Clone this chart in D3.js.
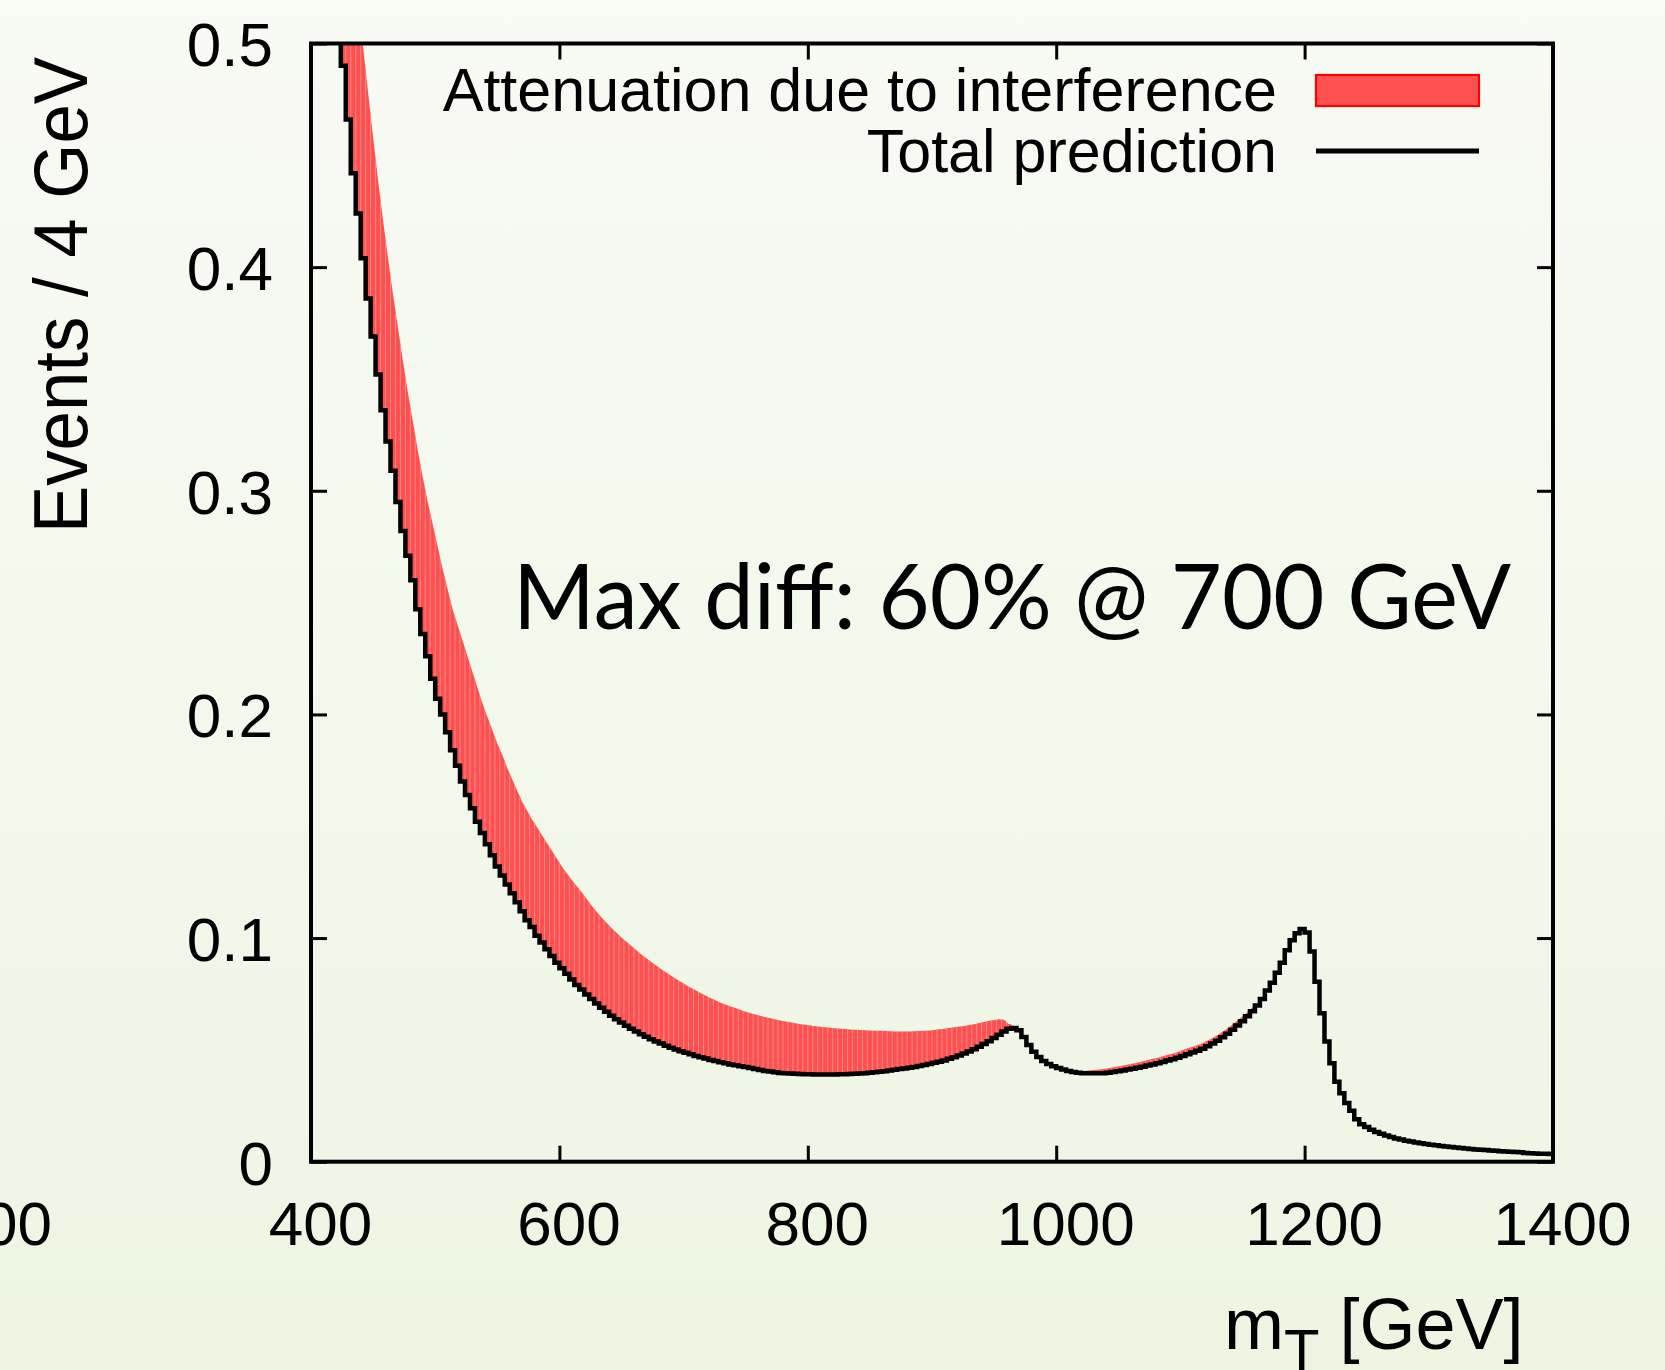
<!DOCTYPE html>
<html>
<head>
<meta charset="utf-8">
<script src="https://cdn.jsdelivr.net/npm/d3@7"></script>
<style>
  html, body { margin: 0; padding: 0; overflow: hidden; background: #f4f8ee; }
  svg { display: block; }
</style>
</head>
<body>
<div id="chart"></div>
<script>
// ticks
const xTicks = [400, 600, 800, 1000, 1200, 1400];
const yTicks = [0, 0.1, 0.2, 0.3, 0.4, 0.5];

// histogram bins: 4 GeV wide from 400 GeV
const binStart = 400, binWidth = 4;

// total prediction (black step line), one value per bin, 400 .. 1396
const totalPrediction = [
  0.645, 0.616, 0.588, 0.562, 0.537, 0.513, 0.490, 0.466, 0.442, 0.424,
  0.404, 0.386, 0.369, 0.352, 0.336, 0.322, 0.309, 0.295, 0.282, 0.271,
  0.260, 0.247, 0.236, 0.226, 0.216, 0.207, 0.200, 0.192, 0.184, 0.177,
  0.170, 0.164, 0.158, 0.152, 0.147, 0.142, 0.137, 0.132, 0.128, 0.124,
  0.120, 0.116, 0.112, 0.108, 0.105, 0.101, 0.098, 0.095, 0.092, 0.089,
  0.0865, 0.084, 0.0815, 0.079, 0.077, 0.0748, 0.0727, 0.0707, 0.0688, 0.067,
  0.0653, 0.0637, 0.0622, 0.0608, 0.0595, 0.0582, 0.057, 0.0559, 0.0548, 0.0538,
  0.0528, 0.0519, 0.051, 0.0502, 0.0494, 0.0487, 0.048, 0.0473, 0.0467, 0.0461,
  0.0455, 0.045, 0.0445, 0.044, 0.0435, 0.0431, 0.0427, 0.0423, 0.0419, 0.0415,
  0.041, 0.0406, 0.0403, 0.04, 0.0397, 0.0396, 0.0394, 0.0393, 0.0392, 0.0391,
  0.0391, 0.039, 0.039, 0.039, 0.039, 0.039, 0.0391, 0.0391, 0.0392, 0.0393,
  0.0394, 0.0396, 0.0398, 0.04, 0.0402, 0.0405, 0.0408, 0.0411, 0.0414, 0.0417,
  0.042, 0.0424, 0.0428, 0.0432, 0.0437, 0.0442, 0.0447, 0.0453, 0.046, 0.0467,
  0.0475, 0.0484, 0.0493, 0.0503, 0.0514, 0.0526, 0.0539, 0.0553, 0.0568, 0.0582,
  0.0594, 0.0598, 0.0588, 0.0558, 0.0522, 0.0492, 0.0468, 0.045, 0.0437, 0.0427,
  0.0419, 0.0412, 0.0406, 0.0401, 0.0398, 0.0396, 0.0395, 0.0395, 0.0395, 0.0396,
  0.0398, 0.0401, 0.0404, 0.0408, 0.0412, 0.0416, 0.042, 0.0425, 0.043, 0.0435,
  0.044, 0.0446, 0.0452, 0.0458, 0.0465, 0.0473, 0.0481, 0.0488, 0.0496, 0.0505,
  0.0516, 0.0528, 0.0541, 0.0556, 0.0572, 0.059, 0.0609, 0.0628, 0.065, 0.0673,
  0.0699, 0.0728, 0.0765, 0.080, 0.0845, 0.089, 0.0945, 0.099, 0.1022, 0.104,
  0.1025, 0.094, 0.0805, 0.0664, 0.0537, 0.044, 0.0358, 0.0306, 0.0262, 0.0228,
  0.019, 0.0168, 0.0155, 0.0143, 0.0133, 0.0125, 0.0117, 0.011, 0.0104, 0.0099,
  0.0094, 0.009, 0.0086, 0.0082, 0.0079, 0.0076, 0.0073, 0.007, 0.0068, 0.0066,
  0.0063, 0.0061, 0.0059, 0.0057, 0.0055, 0.0053, 0.0052, 0.005, 0.0049, 0.0047,
  0.0046, 0.0045, 0.0043, 0.0042, 0.0039, 0.0038, 0.0037, 0.0036, 0.0035, 0.0034
];

// prediction without interference (top of the red band), first band 400 .. 960
const bandAStart = 400;
const noInterferenceA = [
  0.82, 0.78, 0.74, 0.70, 0.665, 0.63, 0.60, 0.57, 0.545, 0.52,
  0.498, 0.478, 0.458, 0.439, 0.421, 0.404, 0.388, 0.373, 0.358, 0.344,
  0.331, 0.318, 0.306, 0.295, 0.285, 0.275, 0.265, 0.256, 0.247, 0.240,
  0.233, 0.226, 0.219, 0.212, 0.205, 0.199, 0.193, 0.187, 0.182, 0.176,
  0.171, 0.166, 0.161, 0.157, 0.153, 0.1495, 0.146, 0.1425, 0.139, 0.1355,
  0.132, 0.129, 0.126, 0.1232, 0.1205, 0.1175, 0.1145, 0.1118, 0.1092, 0.1068,
  0.1045, 0.1024, 0.1003, 0.0983, 0.0964, 0.0945, 0.0927, 0.091, 0.0893, 0.0877,
  0.0861, 0.0846, 0.0831, 0.0817, 0.0803, 0.079, 0.0777, 0.0765, 0.0753, 0.0742,
  0.0731, 0.0721, 0.0711, 0.0702, 0.0694, 0.0686, 0.0678, 0.0671, 0.0664, 0.0658,
  0.0652, 0.0646, 0.0641, 0.0636, 0.0631, 0.0627, 0.0623, 0.0619, 0.0615, 0.0612,
  0.0609, 0.0606, 0.0603, 0.0601, 0.0599, 0.0597, 0.0595, 0.0593, 0.0591, 0.059,
  0.0589, 0.0588, 0.0587, 0.0586, 0.0585, 0.0584, 0.0583, 0.0582, 0.0582, 0.0582,
  0.0582, 0.0583, 0.0584, 0.0585, 0.0587, 0.0589, 0.0592, 0.0595, 0.0598, 0.0601,
  0.0604, 0.0607, 0.0611, 0.0615, 0.062, 0.0625, 0.063, 0.0634, 0.0637, 0.0635,
  0.0615
];

// second band 1016 .. 1160
const bandBStart = 1016;
const noInterferenceB = [
  0.0402, 0.0405, 0.0408, 0.041, 0.0412, 0.0415, 0.0418, 0.0422, 0.0426, 0.043,
  0.0435, 0.0439, 0.0444, 0.0449, 0.0455, 0.046, 0.0465, 0.0472, 0.0478, 0.0484,
  0.0491, 0.0499, 0.0507, 0.0514, 0.0522, 0.0531, 0.0542, 0.0553, 0.0566, 0.0581,
  0.0596, 0.0613, 0.0631, 0.0649, 0.0669, 0.0689, 0.0708
];

const W = 1665, H = 1370;
const margin = { top: 43.5, right: 112, bottom: 208.3, left: 311 },
      width = W - margin.left - margin.right,
      height = H - margin.top - margin.bottom;

const x = d3.scaleLinear().domain([400, 1400]).range([0, width]);
const y = d3.scaleLinear().domain([0, 0.5]).range([height, 0]);

const font = "'Liberation Sans', Arial, Helvetica, sans-serif";

const svg = d3.select("#chart").append("svg")
    .attr("width", W)
    .attr("height", H);

const defs = svg.append("defs");
const grad = defs.append("linearGradient")
    .attr("id", "bg").attr("x1", 0).attr("y1", 0).attr("x2", 0).attr("y2", 1);
grad.append("stop").attr("offset", "0%").attr("stop-color", "#f8faf4");
grad.append("stop").attr("offset", "50%").attr("stop-color", "#f3f8ec");
grad.append("stop").attr("offset", "100%").attr("stop-color", "#edf5e2");

svg.append("rect")
    .attr("width", W).attr("height", H)
    .attr("fill", "url(#bg)");

defs.append("clipPath").attr("id", "plotClip")
  .append("rect")
    .attr("width", width).attr("height", height);

const g = svg.append("g")
    .attr("transform", "translate(" + margin.left + "," + margin.top + ")");

const plot = g.append("g").attr("clip-path", "url(#plotClip)");

// red band: smooth top through bin centres, stepped bottom along the total
function bandPoints(start, upper) {
  const i0 = (start - binStart) / binWidth;
  const pts = [[x(start), y(upper[0])]];
  upper.forEach((u, k) => pts.push([x(start + k * binWidth + binWidth / 2), y(u)]));
  const end = start + upper.length * binWidth;
  pts.push([x(end), y(upper[upper.length - 1])]);
  for (let k = upper.length - 1; k >= 0; k--) {
    const t = totalPrediction[i0 + k];
    pts.push([x(start + (k + 1) * binWidth), y(t)]);
    pts.push([x(start + k * binWidth), y(t)]);
  }
  return pts;
}

const bands = [
  { id: "bandA", start: bandAStart, upper: noInterferenceA },
  { id: "bandB", start: bandBStart, upper: noInterferenceB }
];

bands.forEach(b => {
  const path = d3.line()(bandPoints(b.start, b.upper)) + "Z";
  defs.append("clipPath").attr("id", b.id + "Clip")
    .append("path").attr("d", path);

  plot.append("path")
      .attr("d", path)
      .attr("fill", "#ff5050");

  // faint bin separators inside the band
  const i0 = (b.start - binStart) / binWidth;
  plot.append("g")
      .attr("clip-path", "url(#" + b.id + "Clip)")
    .selectAll("line")
    .data(b.upper)
    .join("line")
      .attr("x1", (d, k) => x(b.start + k * binWidth))
      .attr("x2", (d, k) => x(b.start + k * binWidth))
      .attr("y1", (d, k) => y(totalPrediction[i0 + k]))
      .attr("y2", d => y(d) - 30)
      .attr("stroke", "#ff8c8c")
      .attr("stroke-width", 0.9);
});

// total prediction histogram
const stepData = totalPrediction.map((v, i) => [binStart + i * binWidth, v]);
stepData.push([binStart + totalPrediction.length * binWidth, totalPrediction[totalPrediction.length - 1]]);

const lineTotal = d3.line()
    .x(d => x(d[0]))
    .y(d => y(d[1]))
    .curve(d3.curveStepAfter);

plot.append("path")
    .datum(stepData)
    .attr("d", lineTotal)
    .attr("fill", "none")
    .attr("stroke", "#000")
    .attr("stroke-width", 4.5)
    .attr("stroke-linejoin", "miter");

// axes, ticks on all four sides pointing inward
const tickLen = 16;

const xAxisB = g.append("g")
    .attr("transform", "translate(0," + height + ")")
    .call(d3.axisBottom(x).tickValues(xTicks).tickSize(-tickLen).tickSizeOuter(0)
      .tickFormat(d3.format("d")));
const xAxisT = g.append("g")
    .call(d3.axisTop(x).tickValues(xTicks).tickSize(-tickLen).tickSizeOuter(0).tickFormat(""));
const yAxisL = g.append("g")
    .call(d3.axisLeft(y).tickValues(yTicks).tickSize(-tickLen).tickSizeOuter(0)
      .tickFormat(d => d === 0 ? "0" : d3.format(".1f")(d)));
const yAxisR = g.append("g")
    .attr("transform", "translate(" + width + ",0)")
    .call(d3.axisRight(y).tickValues(yTicks).tickSize(-tickLen).tickSizeOuter(0).tickFormat(""));

[xAxisB, xAxisT, yAxisL, yAxisR].forEach(a => {
  a.select(".domain").remove();
  a.selectAll(".tick line").attr("stroke", "#000").attr("stroke-width", 3);
});

xAxisB.selectAll(".tick text")
    .attr("y", 83)
    .attr("dy", 0)
    .attr("dx", 9)
    .style("font-family", font)
    .style("font-size", "62px")
    .attr("fill", "#000");

yAxisL.selectAll(".tick text")
    .attr("x", -38)
    .attr("dy", "0.36em")
    .style("font-family", font)
    .style("font-size", "62px")
    .attr("fill", "#000");

// frame
g.append("rect")
    .attr("width", width)
    .attr("height", height)
    .attr("fill", "none")
    .attr("stroke", "#000")
    .attr("stroke-width", 4);

// stray label cut by the left page edge
svg.append("text")
    .attr("x", 52)
    .attr("y", 1245)
    .attr("text-anchor", "end")
    .style("font-family", font)
    .style("font-size", "62px")
    .text("00");

// axis titles
svg.append("text")
    .attr("transform", "translate(87,295) rotate(-90)")
    .attr("text-anchor", "middle")
    .attr("textLength", 476)
    .attr("lengthAdjust", "spacingAndGlyphs")
    .style("font-family", font)
    .style("font-size", "76px")
    .text("Events / 4 GeV");

const xTitle = svg.append("text")
    .attr("x", 1224)
    .attr("y", 1349)
    .style("font-family", font)
    .style("font-size", "72px");
xTitle.append("tspan").text("m");
xTitle.append("tspan").attr("dy", 21).style("font-size", "58px").text("T");
xTitle.append("tspan").attr("dy", -21).text(" [GeV]");

// annotation
svg.append("text")
    .attr("x", 513)
    .attr("y", 629)
    .attr("textLength", 998)
    .attr("lengthAdjust", "spacingAndGlyphs")
    .style("font-family", "Lato, 'Open Sans', sans-serif")
    .style("font-size", "92px")
    .text("Max diff: 60% @ 700 GeV");

// legend
const legend = svg.append("g");
legend.append("text")
    .attr("x", 1277).attr("y", 110.7)
    .attr("text-anchor", "end")
    .style("font-family", font)
    .style("font-size", "61px")
    .text("Attenuation due to interference");
legend.append("rect")
    .attr("x", 1316).attr("y", 75)
    .attr("width", 163).attr("height", 31)
    .attr("fill", "#ff5050")
    .attr("stroke", "#ff0000")
    .attr("stroke-width", 2.2);
legend.append("text")
    .attr("x", 1277).attr("y", 171.7)
    .attr("text-anchor", "end")
    .style("font-family", font)
    .style("font-size", "61px")
    .text("Total prediction");
legend.append("line")
    .attr("x1", 1316).attr("x2", 1479)
    .attr("y1", 151).attr("y2", 151)
    .attr("stroke", "#000")
    .attr("stroke-width", 5);
</script>
</body>
</html>
